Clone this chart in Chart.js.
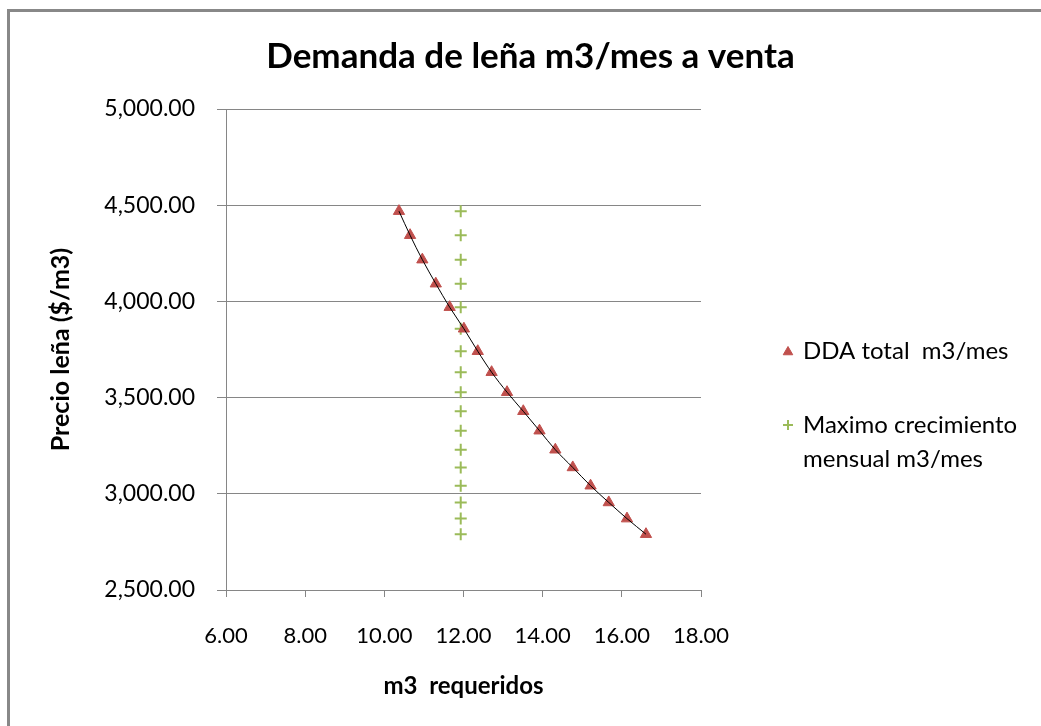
<!DOCTYPE html>
<html>
<head>
<meta charset="utf-8">
<script src="https://cdn.jsdelivr.net/npm/chart.js@4/dist/chart.umd.min.js"></script>
<style>
  html, body { margin: 0; padding: 0; background: #fff; }
  #wrap { position: relative; width: 1041px; height: 726px; }
</style>
</head>
<body>
<div id="wrap"><canvas id="c" width="1041" height="726"></canvas></div>
<script>
const chartTitle = "Demanda de leña m3/mes a venta";
const xAxisTitle = "m3  requeridos";
const yAxisTitle = "Precio leña ($/m3)";
const seriesNames = ["DDA total  m3/mes", ["Maximo crecimiento", "mensual m3/mes"]];

const prices = [4469, 4344, 4217, 4092, 3970, 3858, 3741, 3632, 3528, 3429, 3328, 3229, 3137, 3042, 2955, 2871, 2790];
const ddaTotal = [10.37, 10.65, 10.96, 11.30, 11.65, 12.01, 12.36, 12.71, 13.10, 13.51, 13.92, 14.32, 14.76, 15.21, 15.67, 16.13, 16.61];
const maxCrecimiento = [11.93, 11.93, 11.93, 11.93, 11.93, 11.93, 11.93, 11.93, 11.93, 11.93, 11.93, 11.93, 11.93, 11.93, 11.93, 11.93, 11.93];

const xTicks = [6, 8, 10, 12, 14, 16, 18];
const yTicks = [2500, 3000, 3500, 4000, 4500, 5000];

const RED = '#C0504D';
const GREEN = '#9BBB59';
const GRID = '#868686';
const FONT = 'Lato, "Open Sans", sans-serif';

const toPts = (xs) => xs.map((x, i) => ({ x: x, y: prices[i] }));
const fmt = (v) => Number(v).toLocaleString('en-US', { minimumFractionDigits: 2, maximumFractionDigits: 2 });

const frame = {
  id: 'frame',
  beforeDraw(chart) {
    const ctx = chart.ctx;
    ctx.save();
    ctx.fillStyle = '#fff';
    ctx.fillRect(0, 0, chart.width, chart.height);
    ctx.fillStyle = '#888';
    ctx.fillRect(7, 9, 3, chart.height - 9);
    ctx.fillRect(7, 9, chart.width - 7, 3);
    ctx.restore();
  }
};

const customLegend = {
  id: 'customLegend',
  afterDraw(chart) {
    const ctx = chart.ctx;
    ctx.save();
    ctx.fillStyle = RED; ctx.strokeStyle = RED; ctx.lineWidth = 1;
    Chart.helpers.drawPoint(ctx, { pointStyle: 'triangle', radius: 5.5, borderWidth: 1 }, 788, 352);
    ctx.fillStyle = GREEN; ctx.strokeStyle = GREEN; ctx.lineWidth = 2;
    Chart.helpers.drawPoint(ctx, { pointStyle: 'cross', radius: 5, borderWidth: 2 }, 788, 425);
    ctx.font = '24px ' + FONT;
    ctx.fillStyle = '#000';
    ctx.textBaseline = 'middle';
    ctx.textAlign = 'left';
    ctx.fillText(seriesNames[0], 803, 351);
    ctx.fillText(seriesNames[1][0], 803, 425);
    ctx.fillText(seriesNames[1][1], 803, 459);
    ctx.restore();
  }
};

new Chart(document.getElementById('c'), {
  type: 'scatter',
  data: {
    datasets: [
      {
        label: 'trend',
        data: toPts(ddaTotal),
        showLine: true,
        borderColor: '#000',
        borderWidth: 1,
        pointRadius: 0,
        cubicInterpolationMode: 'monotone',
        order: 0
      },
      {
        label: seriesNames[0],
        data: toPts(ddaTotal),
        pointStyle: 'triangle',
        pointRadius: 6.5,
        backgroundColor: RED,
        borderColor: RED,
        borderWidth: 1,
        order: 1
      },
      {
        label: seriesNames[1].join(' '),
        data: toPts(maxCrecimiento),
        pointStyle: 'cross',
        pointRadius: 6,
        backgroundColor: GREEN,
        borderColor: GREEN,
        borderWidth: 2,
        order: 2
      }
    ]
  },
  options: {
    responsive: false,
    animation: false,
    events: [],
    layout: { padding: { left: 20, right: 0, top: 0, bottom: 0 } },
    plugins: {
      legend: { display: false },
      tooltip: { enabled: false },
      title: {
        display: true,
        text: chartTitle,
        color: '#000',
        font: { family: FONT, size: 35, weight: 'bold' },
        padding: { top: 36, bottom: 31 }
      }
    },
    scales: {
      x: {
        type: 'linear',
        min: 6, max: 18,
        afterBuildTicks(s) { s.ticks = xTicks.map(v => ({ value: v })); },
        afterFit(s) { s.height = 136; },
        border: { display: true, color: GRID, width: 1 },
        grid: { drawOnChartArea: false, drawTicks: true, tickLength: 7, color: GRID },
        ticks: { color: '#000', font: { family: FONT, size: 22 }, padding: 26, callback: (v) => fmt(v) },
        title: { display: true, text: xAxisTitle, color: '#000', font: { family: FONT, size: 24, weight: 'bold' }, padding: { top: 0, bottom: 25 } }
      },
      y: {
        type: 'linear',
        min: 2500, max: 5000,
        afterBuildTicks(s) { s.ticks = yTicks.map(v => ({ value: v })); },
        afterFit(s) { s.width = 206; },
        border: { display: true, color: GRID, width: 1 },
        grid: { drawOnChartArea: true, drawTicks: true, tickLength: 9, color: GRID },
        ticks: { color: '#000', font: { family: FONT, size: 23 }, padding: 22, callback: (v) => fmt(v) },
        title: { display: true, text: yAxisTitle, color: '#000', font: { family: FONT, size: 25, weight: 'bold' }, padding: { top: 26, bottom: 0 } }
      },
      spacer: {
        type: 'linear',
        position: 'right',
        axis: 'y',
        min: 0, max: 1,
        afterFit(s) { s.width = 340; },
        border: { display: false },
        grid: { display: false, drawTicks: false },
        ticks: { display: false }
      }
    }
  },
  plugins: [frame, customLegend]
});
</script>
</body>
</html>
